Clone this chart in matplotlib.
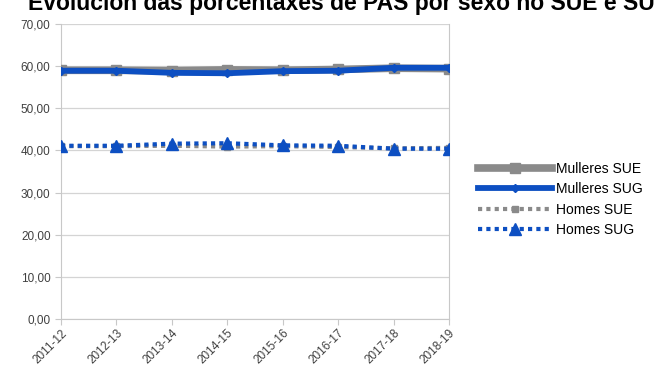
import matplotlib
matplotlib.use("Agg")
import matplotlib.pyplot as plt
from matplotlib.ticker import FuncFormatter

# data
cursos = ["2011-12", "2012-13", "2013-14", "2014-15", "2015-16", "2016-17", "2017-18", "2018-19"]
mulleres_sue = [59.0, 59.0, 58.9, 59.1, 59.0, 59.2, 59.5, 59.4]
mulleres_sug = [58.9, 58.9, 58.4, 58.3, 58.8, 58.9, 59.6, 59.6]
homes_sue = [41.0, 41.0, 41.1, 40.9, 41.0, 40.8, 40.5, 40.6]
homes_sug = [41.1, 41.1, 41.6, 41.7, 41.2, 41.1, 40.4, 40.4]

plt.rcParams['font.family'] = ['Liberation Sans', 'DejaVu Sans']

gris = "#8a8a8a"
azul = "#0d4fc2"

fig = plt.figure(figsize=(6.54, 3.74), dpi=100)
ax = fig.add_axes([0.0933, 0.147, 0.5932, 0.789])

x = list(range(len(cursos)))
ax.plot(x, mulleres_sue, color=gris, lw=5.5, marker="s", ms=7.5, label="Mulleres SUE", zorder=3)
ax.plot(x, mulleres_sug, color=azul, lw=4.2, marker="D", ms=4, label="Mulleres SUG", zorder=4)
ax.plot(x, homes_sue, color=gris, lw=3, ls=(0, (1, 1)), marker="s", ms=5, label="Homes SUE", zorder=3)
ax.plot(x, homes_sug, color=azul, lw=3, ls=(0, (1, 1)), marker="^", ms=8, label="Homes SUG", zorder=4)

ax.set_xlim(0, len(cursos) - 1)
ax.set_ylim(0, 70)
ax.set_yticks(range(0, 71, 10))
ax.yaxis.set_major_formatter(FuncFormatter(lambda v, p: f"{v:.2f}".replace(".", ",")))
ax.set_xticks(x)
ax.set_xticklabels(cursos, rotation=45, ha="right", rotation_mode="anchor")

ax.grid(axis="y", color="#d4d4d4", lw=0.9)
ax.set_axisbelow(True)
for s in ["left", "right", "bottom"]:
    ax.spines[s].set_color("#c8c8c8")
ax.spines["top"].set_visible(False)
ax.tick_params(axis="both", colors="#c8c8c8", labelcolor="#404040", labelsize=8.5, length=4)
ax.tick_params(axis="x", pad=2)

fig.legend(loc="upper left", bbox_to_anchor=(0.712, 0.6), frameon=False,
           fontsize=10, handlelength=5.3, labelspacing=0.45, handletextpad=0.3)

fig.text(0.535, 0.973, "Evolución das porcentaxes de PAS por sexo no SUE e SUG",
         ha="center", va="baseline", fontsize=16.5, fontweight="bold")

fig.savefig("out.png", dpi=100)
